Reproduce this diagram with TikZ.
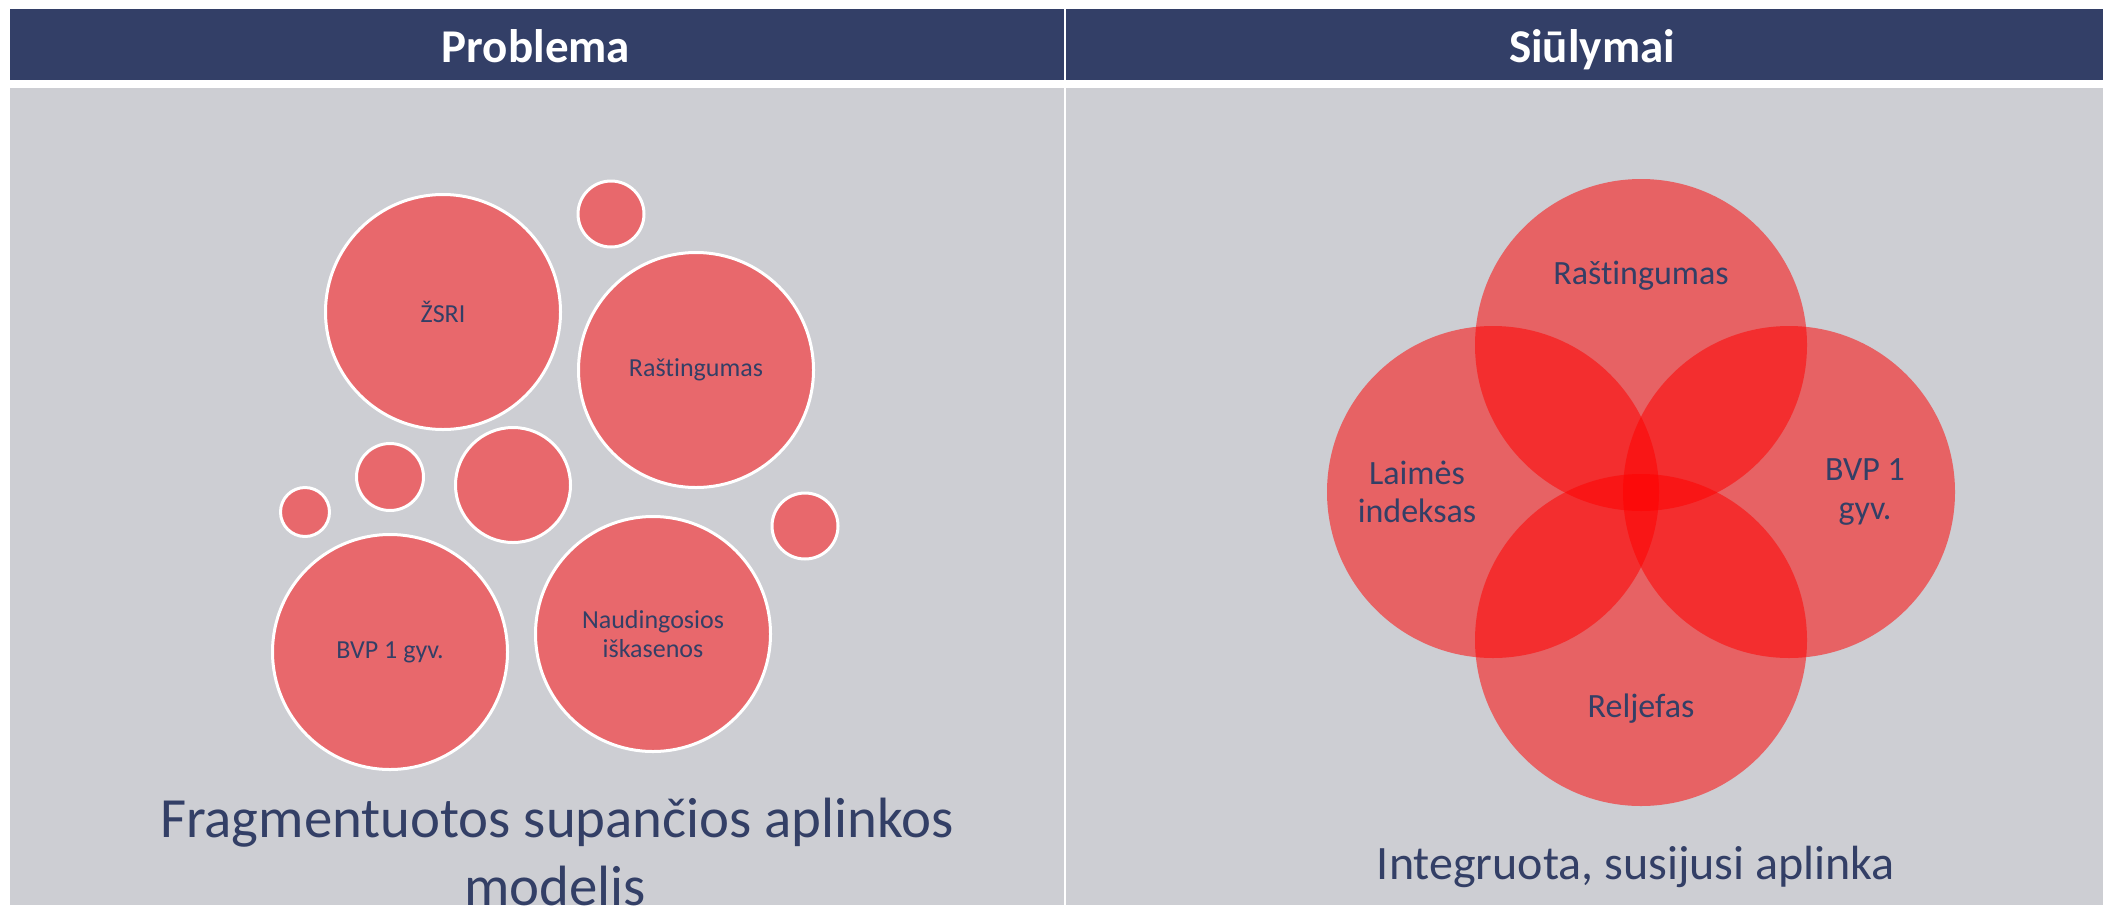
\documentclass[tikz,border=0pt]{standalone}
\usepackage{fontspec}
\setmainfont{Carlito}[Ligatures=NoCommon]
\usetikzlibrary{positioning}
\definecolor{navy}{HTML}{333F67}
\definecolor{panelgray}{HTML}{CDCED3}
\definecolor{bubblered}{HTML}{E8686C}
\definecolor{labelblue}{HTML}{333F66}

\begin{document}
\begin{tikzpicture}[x=0.5pt,y=-0.5pt,
  bubble/.style={circle,fill=bubblered,draw=white,line width=1.5pt,inner sep=0pt,
    text=labelblue,align=center,font=\fontsize{13}{14.5}\selectfont},
  petal/.style={circle,fill=red,fill opacity=0.52,inner sep=0pt,minimum size=166pt},
  petaltext/.style={text=labelblue,align=center,font=\fontsize{17}{19.3}\selectfont},
  headtext/.style={anchor=base,text=white,font=\fontsize{23.5}{28}\selectfont\bfseries}]
\useasboundingbox (0,0) rectangle (2103,905);
% headers and panels
\fill[navy] (10,8.5) rectangle (1063.5,80);
\fill[navy] (1066,8.5) rectangle (2103,80);
\fill[panelgray] (10,88) rectangle (1063.5,905);
\fill[panelgray] (1066,88) rectangle (2103,905);
\node[headtext] (hprob) at (536,62) {Problema};
\node[headtext] (hsiul) at (1592,62) {Siūlymai};
% left side: loose bubbles
\node[bubble,minimum size=117.5pt] (zsri) at (443,312) {ŽSRI};
\node[bubble,minimum size=117.5pt] (rast) at (696,370) {Raštingumas};
\node[bubble,minimum size=117.5pt] (bvp) at (390,652) {BVP 1 gyv.};
\node[bubble,minimum size=117.5pt] (naud) at (653,634) {Naudingosios\\iškasenos};
\foreach \x/\y/\d [count=\i] in {611/214/33, 305/512/24.5, 390/477/33.5, 513/485/57.5, 805/526/33}
\node[bubble,minimum size=\d pt] (dot\i) at (\x,\y) {};
\node[anchor=base,text=labelblue,font=\fontsize{28.4}{34}\selectfont] (tleft) at (557,837) {Fragmentuotos supančios aplinkos};
\node[anchor=base,text=labelblue,font=\fontsize{28.4}{34}\selectfont] (tleft2) at (555,905) {modelis};
% right side: overlapping petals
\node[petal] (ptop) at (1641,345) {};
\node[petal] (pleft) at (1493,492) {};
\node[petal] (pright) at (1789,492) {};
\node[petal] (pbot) at (1641,640) {};
\node[petaltext] (lrast) at (1641,276) {Raštingumas};
\node[petaltext] (llaim) at (1417,492) {Laimės\\indeksas};
\node[petaltext] (lbvp) at (1865,492) {BVP 1\\gyv.};
\node[petaltext] (lrelj) at (1641,709) {Reljefas};
\node[anchor=base,text=labelblue,font=\fontsize{24}{29}\selectfont] (tright) at (1636,879) {Integruota, susijusi aplinka};
\end{tikzpicture}
\end{document}
